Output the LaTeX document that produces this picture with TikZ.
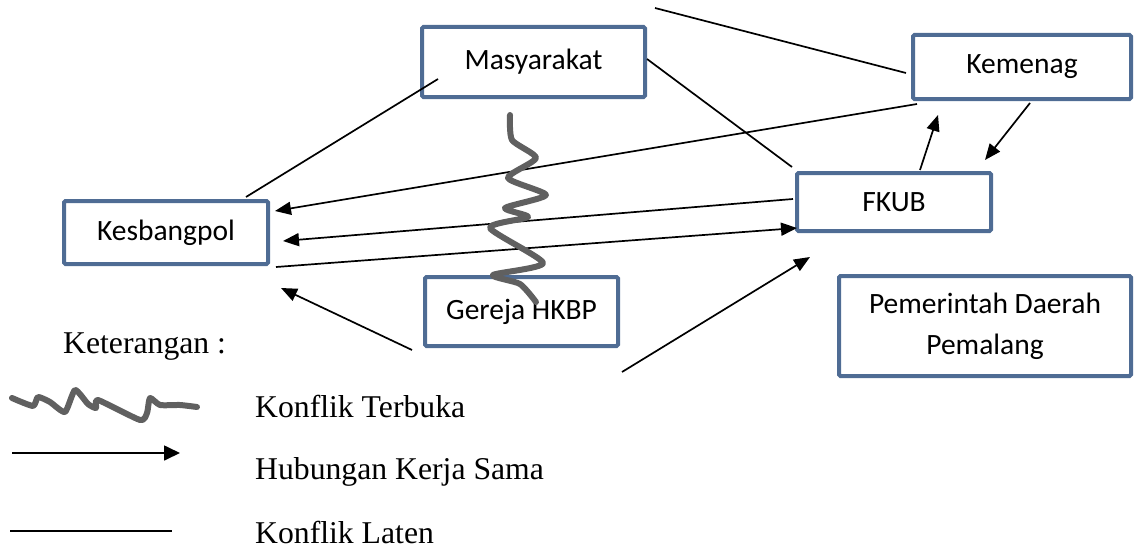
\documentclass[tikz,border=0pt]{standalone}
\usepackage{fontspec}
\setmainfont{Liberation Serif}
\newfontfamily\boxfont{Carlito}
\usetikzlibrary{arrows.meta}
\definecolor{boxblue}{RGB}{79,108,148}
\definecolor{wavegray}{RGB}{96,96,96}
\begin{document}
\begin{tikzpicture}[x=1pt,y=-1pt,
  ent/.style={draw=boxblue, line width=4pt, rounded corners=1.5pt, inner sep=0pt, align=center,
    font=\boxfont\fontsize{29.5}{41}\selectfont},
  latent/.style={line width=1.7pt},
  coop/.style={line width=1.7pt, -{Triangle[length=16pt,width=13pt]}},
  legcoop/.style={line width=1.7pt, -{Triangle[length=16pt,width=15pt]}},
  wave/.style={line width=6pt, draw=wavegray, line cap=round, line join=round},
  legtext/.style={anchor=base west, inner sep=0pt, font=\fontsize{31.7}{38}\selectfont}]
\useasboundingbox (0,0) rectangle (1134,551);

% entities
\node[ent, minimum width=223pt, minimum height=70pt] (mas) at (533.5,62) {Masyarakat};
\node[ent, minimum width=218pt, minimum height=64pt] (kem) at (1022,67) {Kemenag};
\node[ent, minimum width=194pt, minimum height=58pt] (fkub) at (894,202) {FKUB};
\node[ent, minimum width=292pt, minimum height=100pt] (pemda) at (985,326) {Pemerintah Daerah\\Pemalang};
\node[ent, minimum width=204pt, minimum height=63pt] (kes) at (166,232.5) {Kesbangpol};
\node[ent, minimum width=193pt, minimum height=69pt] (gej) at (521.5,311.5) {Gereja HKBP};

% connector end points
\coordinate (topfree) at (655,8);
\coordinate (kemW) at (906,73);
\coordinate (masSW) at (438,79);
\coordinate (kesN) at (246,197);
\coordinate (masE) at (647,59);
\coordinate (fkubNW) at (792,167);
\coordinate (kemSW) at (917,104);
\coordinate (kesE1) at (275,211);
\coordinate (fkubW) at (793,199);
\coordinate (kesE2) at (283,241);
\coordinate (kesE3) at (276,267);
\coordinate (fkubW2) at (797,228);
\coordinate (gejSW) at (412,350);
\coordinate (kesSE) at (281,288);
\coordinate (gejSE) at (622,372);
\coordinate (fkubSW) at (810,257);
\coordinate (fkubN) at (920,170);
\coordinate (kemS1) at (938,115);
\coordinate (kemS2) at (1030,103);
\coordinate (fkubNE) at (985,160);

% latent conflicts
\draw[latent] (topfree) -- (kemW);
\draw[latent] (masSW) -- (kesN);
\draw[latent] (masE) -- (fkubNW);

% cooperation
\draw[coop] (kemSW) -- (kesE1);
\draw[coop] (fkubW) -- (kesE2);
\draw[coop] (kesE3) -- (fkubW2);
\draw[coop] (gejSW) -- (kesSE);
\draw[coop] (gejSE) -- (fkubSW);
\draw[coop] (fkubN) -- (kemS1);
\draw[coop] (kemS2) -- (fkubNE);

% open conflict
\draw[wave] plot[smooth, tension=0.4] coordinates {(510,115) (512,140) (536,158) (508,178) (546,195) (505,208) (528,217) (490,228) (543,263) (493,275) (520,284) (536,302)};

% legend
\node[legtext] (ket) at (63,353) {Keterangan :};
\draw[wave] plot[smooth, tension=0.35] coordinates {(12,398) (33,406) (38,397) (50,402) (65,412) (75,390) (88,404) (96,408) (98,400) (140,420) (147,413) (150,398) (160,405) (180,405) (197,407)};
\node[legtext] (lt1) at (255,417) {Konflik Terbuka};
\coordinate (la1) at (12,453);
\coordinate (la2) at (180,453);
\draw[legcoop] (la1) -- (la2);
\node[legtext] (lt2) at (255,479) {Hubungan Kerja Sama};
\coordinate (lb1) at (10,531);
\coordinate (lb2) at (172,531);
\draw[latent] (lb1) -- (lb2);
\node[legtext] (lt3) at (255,543) {Konflik Laten};
\end{tikzpicture}
\end{document}
